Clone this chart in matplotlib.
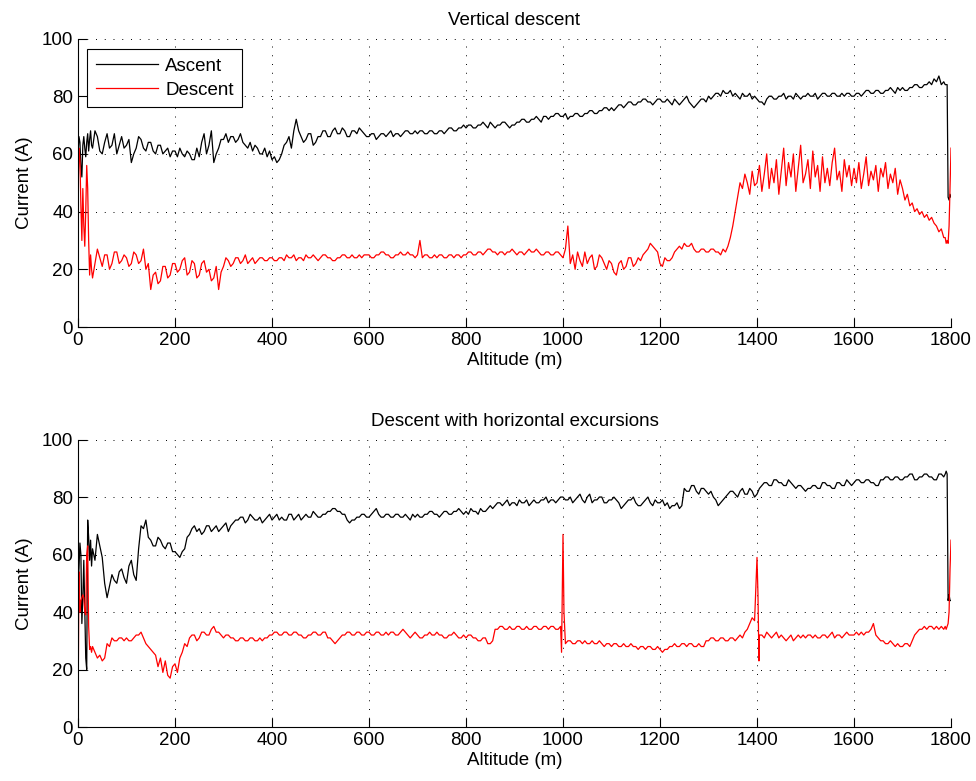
import numpy as np
import matplotlib
matplotlib.use("Agg")
import matplotlib.pyplot as plt

plt.rcParams['font.family'] = ['Liberation Sans', 'DejaVu Sans']

# sample altitudes (m): dense head, 5 m body, dense tail
alt_head = np.arange(0, 30, 2)
alt_body = np.arange(30, 1790, 5)
alt_tail = np.arange(1788, 1801, 2)

# ---- Vertical descent ----
asc_v_head = [60, 66, 64, 56, 52, 63, 66, 62, 59, 64, 67, 61, 65, 68, 63]
asc_v_body = [62, 68, 66, 61, 60, 64, 67, 62, 63, 67, 60, 63, 66, 62,
              63, 65, 57, 60, 62, 66, 65, 62, 61, 64, 64, 61, 60, 63, 63, 60, 61, 62, 59, 61,
              61, 59, 62, 60, 59, 61, 60, 58, 58, 62, 59, 64, 67, 60, 63, 68, 57, 60, 62, 65,
              65, 67, 64, 66, 66, 64, 65, 67, 64, 63, 62, 64, 61, 63, 62, 60, 60, 62, 59, 61,
              58, 59, 57, 58, 60, 63, 64, 66, 62, 68, 72, 68, 66, 64, 65, 67, 67, 63, 64, 66,
              66, 68, 68, 66, 66, 68, 69, 67, 67, 69, 68, 66, 66, 68, 68, 67, 69, 68, 67, 66,
              66, 67, 67, 65, 66, 67, 67, 66, 67, 68, 66, 67, 67, 66, 67, 68, 68, 67, 67, 68,
              67, 68, 68, 67, 67, 68, 68, 67, 67, 68, 68, 67, 68, 69, 69, 68, 68, 69, 69, 70,
              69, 70, 70, 69, 69, 70, 70, 71, 70, 69, 71, 70, 69, 70, 70, 71, 71, 70, 69, 70,
              70, 71, 71, 72, 72, 71, 71, 72, 72, 73, 72, 71, 73, 73, 72, 73, 73, 74, 74, 73,
              73, 74, 72, 73, 73, 74, 74, 73, 73, 74, 74, 75, 75, 74, 74, 75, 75, 76, 76, 75,
              76, 75, 76, 77, 77, 76, 77, 78, 78, 77, 77, 78, 78, 79, 79, 78, 78, 77, 78, 79,
              79, 78, 78, 79, 78, 77, 79, 78, 77, 78, 79, 80, 78, 77, 76, 77, 78, 79, 79, 78,
              80, 79, 80, 81, 81, 80, 82, 81, 81, 82, 80, 81, 80, 79, 81, 80, 80, 81, 79, 80,
              79, 78, 78, 77, 79, 80, 80, 79, 79, 80, 80, 81, 79, 80, 80, 79, 81, 80, 79, 80,
              80, 81, 80, 80, 81, 79, 80, 81, 81, 80, 80, 81, 81, 80, 80, 81, 80, 81, 81, 80,
              80, 81, 81, 80, 81, 82, 82, 81, 81, 82, 82, 81, 81, 82, 82, 83, 82, 81, 83, 82,
              83, 82, 82, 83, 83, 84, 84, 83, 83, 84, 84, 85, 84, 86, 85, 87, 84, 85]
asc_v_tail = [84, 84, 84, 45, 44, 46, 45]
asc_v_xalt, asc_v_xval = [], []

desc_v_head = [45, 62, 58, 42, 30, 48, 35, 28, 40, 56, 48, 30, 18, 25, 20]
desc_v_body = [17, 22, 27, 24, 21, 25, 25, 20, 22, 26, 26, 22, 23, 25,
               24, 21, 22, 26, 25, 22, 23, 27, 20, 22, 13, 18, 19, 15, 16, 21, 21, 17, 18, 22,
               22, 19, 20, 23, 24, 18, 19, 23, 22, 17, 18, 22, 23, 19, 20, 16, 17, 21, 13, 19,
               21, 24, 23, 21, 22, 24, 24, 22, 23, 25, 22, 23, 24, 22, 23, 24, 24, 23, 23, 24,
               24, 23, 23, 24, 24, 23, 25, 24, 24, 25, 23, 24, 24, 23, 25, 24, 24, 25, 24, 23,
               24, 25, 25, 24, 24, 23, 23, 24, 24, 25, 25, 24, 24, 25, 24, 24, 25, 24, 25, 25,
               25, 24, 24, 25, 25, 26, 26, 25, 25, 24, 24, 25, 25, 26, 25, 25, 26, 25, 25, 24,
               25, 30, 24, 25, 25, 24, 24, 25, 24, 25, 25, 24, 24, 25, 25, 24, 25, 25, 24, 25,
               25, 26, 26, 25, 25, 26, 26, 25, 26, 27, 27, 26, 26, 25, 26, 26, 25, 26, 26, 27,
               26, 25, 26, 26, 25, 26, 27, 26, 26, 27, 26, 25, 25, 26, 26, 25, 25, 26, 26, 25,
               24, 27, 35, 22, 25, 20, 26, 23, 21, 26, 22, 24, 25, 20, 21, 25, 24, 22, 20, 23,
               22, 19, 18, 22, 23, 20, 21, 24, 24, 21, 22, 24, 23, 25, 26, 27, 29, 28, 27, 26,
               22, 21, 24, 23, 23, 24, 26, 27, 28, 27, 29, 28, 28, 29, 27, 26, 26, 27, 27, 26,
               26, 27, 27, 26, 26, 25, 27, 26, 28, 31, 35, 40, 45, 50, 48, 53, 50, 46, 54, 49,
               50, 56, 47, 53, 60, 48, 55, 50, 58, 46, 54, 62, 49, 57, 52, 60, 47, 55, 63, 50,
               53, 58, 48, 61, 52, 56, 47, 59, 50, 55, 49, 57, 62, 51, 54, 47, 58, 52, 56, 49,
               55, 50, 57, 48, 53, 59, 49, 54, 51, 56, 47, 55, 52, 57, 48, 53, 50, 55, 46, 51,
               48, 44, 46, 42, 43, 40, 41, 39, 40, 38, 39, 37, 38, 36, 35, 33, 34, 31]
desc_v_tail = [31, 29, 30, 29, 35, 48, 62]
desc_v_xalt, desc_v_xval = [], []

# ---- Descent with horizontal excursions ----
asc_h_head = [50, 55, 64, 60, 36, 45, 58, 40, 24, 20, 72, 66, 58, 65, 56]
asc_h_body = [62, 58, 67, 63, 59, 50, 45, 49, 53, 51, 50, 54, 55, 52,
              50, 56, 58, 53, 51, 62, 70, 69, 72, 66, 65, 63, 63, 66, 65, 63, 62, 64, 64, 61,
              61, 60, 59, 61, 62, 66, 67, 69, 70, 68, 69, 67, 68, 70, 70, 68, 69, 70, 68, 69,
              70, 71, 68, 70, 71, 72, 72, 73, 73, 71, 72, 74, 73, 72, 72, 73, 71, 72, 73, 74,
              72, 73, 74, 72, 73, 72, 72, 74, 74, 72, 73, 74, 72, 73, 74, 73, 73, 75, 74, 73,
              73, 74, 74, 75, 75, 76, 76, 75, 75, 74, 74, 72, 71, 72, 72, 73, 73, 74, 74, 73,
              73, 74, 75, 76, 74, 73, 73, 74, 74, 73, 73, 74, 74, 73, 73, 74, 73, 72, 74, 73,
              74, 73, 73, 74, 74, 75, 75, 74, 74, 73, 74, 75, 75, 74, 74, 75, 75, 76, 75, 74,
              75, 74, 76, 75, 75, 74, 76, 75, 75, 76, 77, 76, 77, 78, 78, 77, 78, 79, 77, 78,
              78, 77, 79, 78, 78, 79, 77, 78, 79, 78, 78, 79, 79, 80, 78, 79, 79, 78, 79, 80,
              80, 79, 79, 80, 78, 79, 80, 81, 79, 78, 80, 81, 78, 79, 79, 80, 80, 78, 78, 79,
              79, 80, 79, 78, 76, 77, 78, 79, 79, 80, 78, 77, 77, 78, 79, 80, 78, 77, 79, 78,
              78, 79, 77, 78, 76, 77, 77, 78, 76, 77, 83, 82, 82, 84, 84, 82, 81, 83, 83, 82,
              81, 82, 80, 79, 77, 78, 79, 80, 81, 82, 82, 81, 80, 82, 83, 81, 81, 83, 82, 80,
              81, 83, 84, 85, 85, 84, 84, 86, 86, 85, 85, 84, 84, 86, 85, 84, 83, 84, 84, 83,
              82, 83, 83, 84, 84, 83, 83, 85, 85, 84, 84, 83, 83, 85, 85, 84, 84, 86, 85, 84,
              85, 86, 86, 85, 85, 86, 86, 85, 85, 84, 84, 86, 86, 87, 87, 86, 86, 87, 87, 86,
              86, 87, 87, 88, 88, 86, 86, 87, 87, 88, 88, 87, 87, 86, 86, 88, 88, 87]
asc_h_tail = [88, 89, 88, 44, 46, 44, 44]
asc_h_xalt, asc_h_xval = [], []

desc_h_head = [0, 54, 40, 44, 45, 46, 45, 40, 39, 60, 63, 35, 27, 28, 26]
desc_h_body = [28, 26, 24, 25, 23, 24, 29, 28, 31, 30, 30, 31, 31, 30,
               31, 30, 30, 31, 32, 32, 33, 31, 29, 28, 27, 26, 25, 21, 24, 19, 23, 18, 17, 21,
               22, 19, 24, 26, 29, 28, 31, 32, 32, 30, 31, 33, 33, 32, 32, 34, 35, 33, 33, 32,
               31, 32, 32, 31, 31, 30, 30, 31, 31, 30, 30, 31, 31, 30, 30, 31, 30, 31, 31, 32,
               32, 33, 33, 32, 32, 33, 33, 32, 32, 33, 33, 32, 32, 31, 31, 32, 32, 33, 33, 32,
               32, 33, 33, 31, 31, 30, 29, 30, 31, 32, 32, 33, 33, 32, 32, 33, 33, 32, 32, 33,
               33, 32, 32, 33, 33, 32, 32, 33, 32, 33, 33, 32, 32, 33, 34, 33, 32, 31, 32, 33,
               32, 31, 31, 32, 32, 33, 32, 32, 33, 32, 32, 31, 31, 32, 32, 33, 32, 31, 31, 32,
               31, 32, 32, 31, 31, 30, 30, 31, 31, 29, 29, 30, 34, 34, 35, 35, 34, 34, 35, 34,
               34, 35, 35, 34, 34, 35, 34, 34, 35, 35, 34, 34, 35, 35, 34, 35, 35, 34, 34, 35,
               67, 29, 30, 30, 29, 29, 30, 30, 29, 30, 29, 29, 30, 29, 29, 30, 29, 28, 29, 29,
               28, 29, 29, 28, 28, 29, 28, 28, 29, 28, 28, 27, 28, 28, 27, 28, 28, 27, 27, 28,
               27, 26, 27, 27, 28, 28, 29, 28, 28, 29, 29, 28, 29, 29, 28, 28, 29, 28, 28, 30,
               30, 31, 31, 30, 30, 31, 31, 30, 30, 31, 31, 30, 31, 32, 31, 33, 34, 36, 38, 37,
               59, 32, 32, 31, 33, 32, 31, 32, 33, 31, 32, 31, 30, 31, 32, 30, 31, 32, 31, 32,
               31, 32, 32, 31, 32, 31, 31, 32, 32, 31, 32, 33, 31, 32, 32, 31, 32, 33, 32, 32,
               32, 33, 32, 33, 32, 33, 33, 34, 36, 32, 31, 30, 30, 29, 29, 30, 29, 28, 29, 28,
               28, 29, 29, 28, 30, 32, 33, 34, 34, 35, 34, 35, 35, 34, 35, 34, 35, 34]
desc_h_tail = [35, 34, 35, 36, 40, 55, 65]
desc_h_xalt = [997, 1002, 1402, 1404]
desc_h_xval = [26, 40, 46, 23]


def build(head, body, tail, xalt, xval):
    alt = np.concatenate([alt_head, alt_body, alt_tail, xalt])
    cur = np.concatenate([head, body, tail, xval]).astype(float)
    order = np.argsort(alt, kind='stable')
    return alt[order], cur[order]


fig = plt.figure(figsize=(9.76, 7.81), dpi=100)
ax1 = fig.add_axes([0.0799, 0.5813, 0.8945, 0.3694])
ax2 = fig.add_axes([0.0799, 0.0691, 0.8945, 0.3681])

panels = [
    (ax1, "Vertical descent",
     build(asc_v_head, asc_v_body, asc_v_tail, asc_v_xalt, asc_v_xval),
     build(desc_v_head, desc_v_body, desc_v_tail, desc_v_xalt, desc_v_xval)),
    (ax2, "Descent with horizontal excursions",
     build(asc_h_head, asc_h_body, asc_h_tail, asc_h_xalt, asc_h_xval),
     build(desc_h_head, desc_h_body, desc_h_tail, desc_h_xalt, desc_h_xval)),
]

fs = 13.5
for ax, title, (xa, ya), (xd, yd) in panels:
    ax.plot(xa, ya, color='black', lw=0.9, label='Ascent')
    ax.plot(xd, yd, color='red', lw=0.9, label='Descent')
    ax.set_xlim(0, 1800)
    ax.set_ylim(0, 100)
    ax.set_xticks(range(0, 1801, 200))
    ax.set_yticks(range(0, 101, 20))
    ax.grid(True, linestyle=(0, (1, 8)), color='black', lw=0.7)
    for s in ['top', 'right']:
        ax.spines[s].set_visible(False)
    ax.tick_params(direction='in', length=6.5, labelsize=fs, width=0.8)
    ax.set_title(title, fontsize=fs, pad=10)
    ax.set_xlabel("Altitude (m)", fontsize=fs, labelpad=2)
    ax.set_ylabel("Current (A)", fontsize=fs, labelpad=6)

leg = ax1.legend(loc='upper left', bbox_to_anchor=(0.0107, 0.9626),
                 borderaxespad=0, fontsize=fs, handlelength=3.3,
                 fancybox=False, framealpha=1, edgecolor='black',
                 borderpad=0.45, labelspacing=0.35, handletextpad=0.4)
leg.get_frame().set_linewidth(0.8)

fig.savefig("out.png", dpi=100)
